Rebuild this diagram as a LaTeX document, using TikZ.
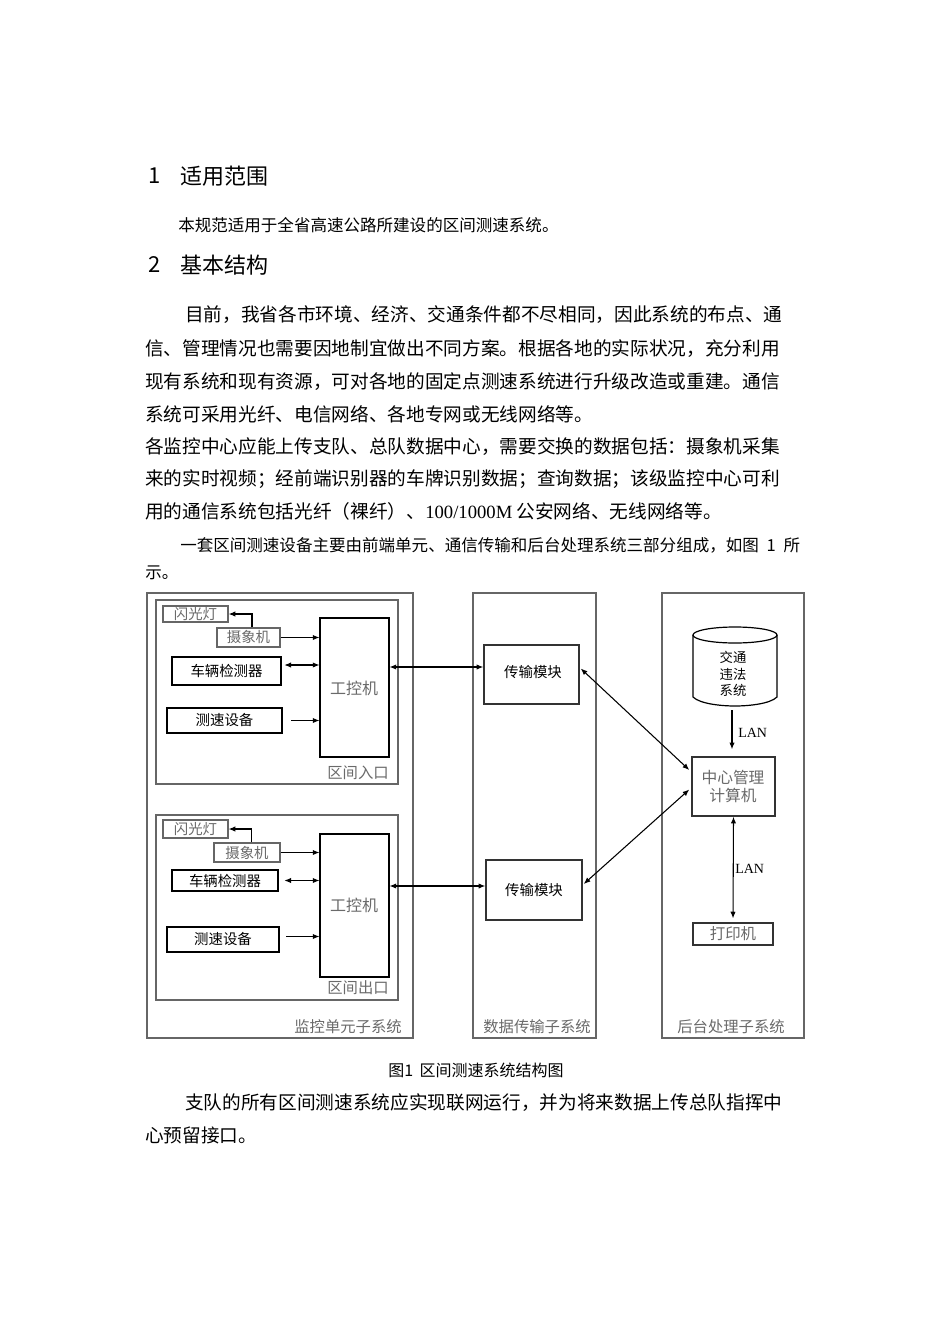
\documentclass[tikz,border=0pt]{standalone}
\usepackage{fontspec}
\setmainfont{Noto Sans CJK SC}
\newfontfamily\latserif{Liberation Serif}
\usetikzlibrary{arrows.meta,calc,fit}
\newlength\pxu
\setlength\pxu{0.75pt}
\XeTeXinterchartokenstate=1
\newcommand\cjkg{\hskip 0pt plus 4pt minus 1pt}
\XeTeXinterchartoks 1 1 = {\cjkg}
\XeTeXinterchartoks 1 2 = {\cjkg}
\XeTeXinterchartoks 1 3 = {\cjkg}
\XeTeXinterchartoks 2 1 = {\cjkg}
\XeTeXinterchartoks 3 1 = {\cjkg}
\XeTeXinterchartoks 3 2 = {\cjkg}
\XeTeXinterchartoks 3 3 = {\cjkg}
\newcommand\fl[2]{\makebox[#1\pxu][s]{#2}}
\definecolor{gtxt}{HTML}{6A6A6A}
\definecolor{gline}{HTML}{666666}
\begin{document}
\begin{tikzpicture}[x=0.75pt,y=-0.75pt,
  bodytxt/.style={inner sep=0, anchor=west, font=\fontsize{14}{17}\selectfont},
  smalltxt/.style={inner sep=0, anchor=west, font=\fontsize{12.4}{15}\selectfont},
  headtxt/.style={inner sep=0, anchor=west, font=\fontsize{16.5}{19}\selectfont},
  captxt/.style={inner sep=0, font=\fontsize{12}{14}\selectfont},
  outerbox/.style={draw=gline, line width=1.4pt, inner sep=0},
  innerbox/.style={draw=gline, line width=1.2pt, inner sep=0},
  greybox/.style={draw=gline, line width=0.9pt, inner sep=0},
  thickbox/.style={draw=black, line width=2pt, inner sep=0},
  thinbox/.style={draw=black, line width=0.8pt, inner sep=0},
  medbox/.style={draw=black!80, line width=1.1pt, inner sep=0},
  gtext/.style={inner sep=0, text=gtxt, font=\fontsize{10.8}{12}\selectfont},
  btext/.style={inner sep=0, text=black, font=\fontsize{10.8}{12}\selectfont},
  glab/.style={inner sep=0, text=gtxt, font=\fontsize{11.5}{13}\selectfont},
  lantxt/.style={inner sep=0, font=\latserif\fontsize{10.5}{12}\selectfont},
  arr/.style={-{Latex[length=5pt,width=4pt]}, line width=0.8pt},
  darr/.style={{Latex[length=5pt,width=4pt]}-{Latex[length=5pt,width=4pt]}, line width=0.8pt}]
\useasboundingbox (0,0) rectangle (950,1344);
\fill[white] (0,0) rectangle (950,1344);

% ---------- text ----------
\node[headtxt] (h1n) at (148,176) {1};
\node[headtxt] (h1t) at (180,176) {适用范围};
\node[smalltxt] (s1) at (178,225) {本规范适用于全省高速公路所建设的区间测速系统。};
\node[headtxt] (h2n) at (148,265) {2};
\node[headtxt] (h2t) at (180,265) {基本结构};
\node[bodytxt] (p1) at (185,315) {\fl{617}{目前，我省各市环境、经济、交通条件都不尽相同，因此系统的布点、通}};
\node[bodytxt] (p2) at (145,349) {\fl{657}{信、管理情况也需要因地制宜做出不同方案。根据各地的实际状况，充分利用}};
\node[bodytxt] (p3) at (145,382) {\fl{657}{现有系统和现有资源，可对各地的固定点测速系统进行升级改造或重建。通信}};
\node[bodytxt] (p4) at (145,414) {系统可采用光纤、电信网络、各地专网或无线网络等。};
\node[bodytxt] (p5) at (145,447) {\fl{652}{各监控中心应能上传支队、总队数据中心，需要交换的数据包括：摄象机采集}};
\node[bodytxt] (p6) at (145,479) {\fl{652}{来的实时视频；经前端识别器的车牌识别数据；查询数据；该级监控中心可利}};
\node[bodytxt] (p7) at (145,511) {用的通信系统包括光纤（裸纤）、{\latserif 100/1000M} 公安网络、无线网络等。};
\node[smalltxt] (p8) at (180,545) {\fl{620}{一套区间测速设备主要由前端单元、通信传输和后台处理系统三部分组成，如图 1 所}};
\node[smalltxt] (p9) at (145,573) {示。};
\node[captxt] (cap) at (476,1070) {图1\hspace{0.4em}区间测速系统结构图};
\node[bodytxt] (q1) at (185,1103) {\fl{620}{支队的所有区间测速系统应实现联网运行，并为将来数据上传总队指挥中}};
\node[bodytxt] (q2) at (145,1135) {心预留接口。};

% ---------- subsystem frames ----------
\node[outerbox, fit={(147,593) (413,1038)}] (mon) {};
\node[outerbox, fit={(473,593) (596,1038)}] (trs) {};
\node[outerbox, fit={(662,593) (804,1038)}] (bak) {};
\node[glab] (monl) at (348,1027) {监控单元子系统};
\node[glab] (trsl) at (537,1027) {数据传输子系统};
\node[glab] (bakl) at (731,1027) {后台处理子系统};

% ---------- entry ----------
\node[innerbox, fit={(156,600) (398,784)}] (ent) {};
\node[glab] (entl) at (358,773) {区间入口};
\node[greybox, fit={(163,606) (228,622)}] (fl1) {};
\node[gtext] (fl1t) at (fl1) {闪光灯};
\node[greybox, fit={(217,628) (280,647)}] (cam1) {};
\node[gtext] (cam1t) at (cam1) {摄象机};
\node[thinbox, fit={(320,618) (389,757)}] (ipc1) {};
\node[gtext, font=\fontsize{12}{14}\selectfont] (ipc1t) at (354,688) {工控机};
\node[thickbox, fit={(172,657) (281,685)}] (veh1) {};
\node[btext] (veh1t) at (veh1) {车辆检测器};
\node[thickbox, fit={(167,708) (282,733)}] (spd1) {};
\node[btext] (spd1t) at (spd1) {测速设备};
\node[medbox, fit={(484,645) (579,704)}] (tx1) {};
\node[btext] (tx1t) at (533,672) {传输模块};
\draw[arr] ([xshift=2.6pt]cam1.north) |- (fl1.east);
\draw[arr] (cam1.east) -- (cam1.east -| ipc1.west);
\coordinate (v1) at ($(veh1.east)+(2,-6)$);
\draw[darr] (v1) -- (v1 -| ipc1.west);
\coordinate (sp1) at ($(spd1.east)+(8,0)$);
\draw[arr] (sp1) -- (sp1 -| ipc1.west);
\coordinate (t1w) at ($(tx1.west)+(0,-7.5)$);
\draw[darr] (t1w -| ipc1.east) -- (t1w);

% ---------- exit ----------
\node[innerbox, fit={(156,815) (398,1000)}] (ext) {};
\node[glab] (extl) at (358,988) {区间出口};
\node[greybox, fit={(163,820) (228,838)}] (fl2) {};
\node[gtext] (fl2t) at (fl2) {闪光灯};
\node[greybox, fit={(214,843) (280,862)}] (cam2) {};
\node[gtext] (cam2t) at (cam2) {摄象机};
\node[thinbox, fit={(320,834) (389,977)}] (ipc2) {};
\node[gtext, font=\fontsize{12}{14}\selectfont] (ipc2t) at (354,905) {工控机};
\node[thickbox, fit={(172,870) (278,891)}] (veh2) {};
\node[btext] (veh2t) at (veh2) {车辆检测器};
\node[thickbox, fit={(167,927) (279,952)}] (spd2) {};
\node[btext] (spd2t) at (spd2) {测速设备};
\node[medbox, fit={(486,860) (582,920)}] (tx2) {};
\node[btext] (tx2t) at (534,890) {传输模块};
\draw[arr] ([xshift=3.7pt]cam2.north) |- (fl2.east);
\draw[arr] (cam2.east) -- (cam2.east -| ipc2.west);
\coordinate (v2) at ($(veh2.east)+(5,0)$);
\draw[darr] (v2) -- (v2 -| ipc2.west);
\coordinate (sp2) at ($(spd2.east)+(6,-3)$);
\draw[arr] (sp2) -- (sp2 -| ipc2.west);
\coordinate (t2w) at ($(tx2.west)+(0,-4)$);
\draw[darr] (t2w -| ipc2.east) -- (t2w);

% ---------- backend ----------
\draw[line width=0.9pt] (693,635) -- (693,697) .. controls (700,704) and (722,706) .. (735,706) .. controls (748,706) and (770,704) .. (777,697) -- (777,635);
\draw[line width=0.9pt] (735,635) ellipse [x radius=42, y radius=8];
\node[inner sep=0, fit={(693,627) (777,706)}] (db) {};
\node[inner sep=0, align=center, font=\fontsize{10}{12.4}\selectfont] (dbt) at (733,674) {交通\\违法\\系统};
\node[medbox, fit={(692,757) (775,816)}] (ctr) {};
\node[gtext, align=center, font=\fontsize{11.8}{13.5}\selectfont] (ctrt) at (733,786) {中心管理\\计算机};
\node[greybox, draw=black!80, fit={(693,923) (773,945)}] (prn) {};
\node[gtext, font=\fontsize{11.6}{13}\selectfont] (prnt) at (prn) {打印机};
\draw[arr] ($(db.south)+(-3,4)$) -- ($(ctr.north)+(-1.5,-7)$);
\node[lantxt, anchor=west] (lan1) at (738,733) {LAN};
\draw[darr] (ctr.south) -- ($(prn.north)+(0,-4)$);
\node[lantxt, anchor=west] (lan2) at (735,869) {LAN};
\draw[darr] ($(tx1.east)+(1,-6)$) -- ($(ctr.west)+(-2,-16.5)$);
\draw[darr] ($(tx2.east)+(1,-6)$) -- ($(ctr.west)+(-2,3)$);
\end{tikzpicture}
\end{document}
